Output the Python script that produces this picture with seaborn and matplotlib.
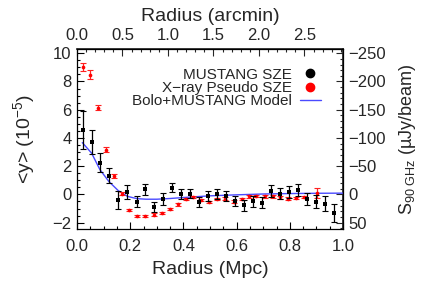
import numpy as np
import pandas as pd
import matplotlib
matplotlib.use("Agg")
import matplotlib.pyplot as plt
from matplotlib.lines import Line2D
from matplotlib.ticker import MultipleLocator, FixedLocator, FormatStrFormatter
import seaborn as sns

# ---- data ----
must_r = [0.024, 0.055, 0.086, 0.121, 0.155, 0.189, 0.224, 0.257, 0.290, 0.325,
          0.358, 0.392, 0.426, 0.460, 0.494, 0.527, 0.561, 0.594, 0.629, 0.663,
          0.697, 0.730, 0.764, 0.798, 0.831, 0.866, 0.900, 0.933, 0.967]
must_y = [4.55, 3.70, 2.26, 1.33, -0.38, 0.15, -0.53, 0.35, -0.91, -0.34,
          0.47, 0.02, 0.05, -0.54, -0.10, 0.04, -0.13, -0.48, -0.78, -0.49,
          -0.58, 0.25, 0.05, 0.20, 0.29, -0.33, -0.51, -0.67, -1.30]
must_err = [1.34, 0.87, 0.70, 0.53, 0.62, 0.49, 0.39, 0.38, 0.36, 0.42,
            0.33, 0.33, 0.32, 0.33, 0.35, 0.35, 0.34, 0.35, 0.39, 0.40,
            0.37, 0.41, 0.41, 0.43, 0.43, 0.41, 0.47, 0.53, 0.62]

xray_r = [0.021, 0.050, 0.079, 0.108, 0.138, 0.168, 0.197, 0.227, 0.257, 0.288,
          0.318, 0.348, 0.379, 0.409, 0.437, 0.467, 0.497, 0.527, 0.557, 0.590,
          0.619, 0.646, 0.673, 0.705, 0.735, 0.765, 0.795, 0.822, 0.852, 0.901]
xray_y = [9.02, 8.48, 6.15, 3.15, 1.33, 0.04, -1.09, -1.52, -1.53, -1.43,
          -1.32, -1.04, -0.71, -0.33, -0.18, -0.41, -0.55, -0.34, -0.29, -0.51,
          -0.31, -0.14, -0.12, -0.14, -0.14, -0.21, -0.29, -0.27, -0.19, 0.10]
xray_err = [0.28, 0.30, 0.20, 0.18, 0.15, 0.10, 0.08, 0.08, 0.08, 0.08,
            0.08, 0.08, 0.08, 0.08, 0.08, 0.08, 0.08, 0.08, 0.08, 0.08,
            0.08, 0.08, 0.08, 0.08, 0.08, 0.08, 0.08, 0.08, 0.08, 0.37]

model_r = [0.02, 0.055, 0.086, 0.12, 0.155, 0.19, 0.225, 0.26, 0.30, 0.35,
           0.40, 0.50, 0.60, 0.70, 0.80, 0.90, 1.00]
model_y = [3.67, 2.92, 1.76, 0.91, 0.27, -0.14, -0.30, -0.34, -0.34, -0.29,
           -0.22, -0.10, -0.03, 0.03, 0.06, 0.08, 0.09]

bottom_ticks = [0.0, 0.2, 0.4, 0.6, 0.8, 1.0]
left_ticks = [-2, 0, 2, 4, 6, 8, 10]
top_ticks = [0.0, 0.5, 1.0, 1.5, 2.0, 2.5]
right_ticks = [-250, -200, -150, -100, -50, 0, 50]

legend_labels = ["MUSTANG SZE", "X\u2212ray Pseudo SZE", "Bolo+MUSTANG Model"]

MPC_PER_ARCMIN = 0.342
UJY_PER_Y = -25.0

# ---- style ----
sns.set_theme(style="ticks")
plt.rcParams["font.family"] = ["Liberation Sans", "DejaVu Sans"]
plt.rcParams["mathtext.fontset"] = "custom"
plt.rcParams["mathtext.rm"] = "Liberation Sans"
plt.rcParams["mathtext.it"] = "Liberation Sans:italic"

fig = plt.figure(figsize=(4.29, 2.86), dpi=100)
ax = fig.add_axes([77 / 429, 1 - 229 / 286, 266 / 429, 180 / 286])

must = pd.DataFrame({"r": must_r, "y": must_y, "e": must_err})
xray = pd.DataFrame({"r": xray_r, "y": xray_y, "e": xray_err})
model = pd.DataFrame({"r": model_r, "y": model_y})

# model line
sns.lineplot(data=model, x="r", y="y", ax=ax, color="#4a4aff", linewidth=1.0,
             zorder=2)

# x-ray pseudo SZE
_, caps, bars = ax.errorbar(xray["r"], xray["y"], yerr=xray["e"], fmt="none",
                            ecolor="#ff2020", elinewidth=0.9, capsize=2.2,
                            capthick=0.8, zorder=3)
for c in caps:
    c.set_color("#ff8888")
sns.scatterplot(data=xray, x="r", y="y", ax=ax, color="red", marker="o",
                s=7, linewidth=0, zorder=4)

# MUSTANG
_, caps, bars = ax.errorbar(must["r"], must["y"], yerr=must["e"], fmt="none",
                            ecolor="black", elinewidth=0.9, capsize=2.5,
                            capthick=0.8, zorder=5)
for c in caps:
    c.set_color("#888888")
sns.scatterplot(data=must, x="r", y="y", ax=ax, color="black", marker="s",
                s=6, linewidth=0, zorder=6)

ax.set_xlim(0, 1.0)
ax.set_ylim(-2.45, 10.3)
ax.set_xlabel("Radius (Mpc)", fontsize=14, labelpad=5)
ax.set_ylabel(r"<y> (10$^{-5}$)", fontsize=14, labelpad=11)

ax.xaxis.set_major_locator(FixedLocator(bottom_ticks))
ax.xaxis.set_minor_locator(MultipleLocator(0.05))
ax.yaxis.set_major_locator(FixedLocator(left_ticks))
ax.yaxis.set_minor_locator(MultipleLocator(0.5))
ax.tick_params(which="both", direction="in", top=False, right=False,
               labelsize=12, pad=4, width=0.8, color="black")
ax.tick_params(axis="x", which="both", pad=7)
ax.tick_params(which="major", length=5)
ax.tick_params(which="minor", length=2.5)
ax.xaxis.set_major_formatter(FormatStrFormatter("%.1f"))
for s in ax.spines.values():
    s.set_linewidth(0.9)
    s.set_color("black")
    s.set_visible(True)

secx = ax.secondary_xaxis("top", functions=(lambda x: x / MPC_PER_ARCMIN,
                                            lambda a: a * MPC_PER_ARCMIN))
secx.set_xlabel("Radius (arcmin)", fontsize=14, labelpad=5)
secx.xaxis.set_major_locator(FixedLocator(top_ticks))
secx.xaxis.set_minor_locator(MultipleLocator(0.1))
secx.xaxis.set_major_formatter(FormatStrFormatter("%.1f"))
secx.tick_params(which="both", direction="in", labelsize=12, pad=4, width=0.8)
secx.tick_params(which="major", length=5)
secx.tick_params(which="minor", length=2.5)

secy = ax.secondary_yaxis("right", functions=(lambda y: y * UJY_PER_Y,
                                              lambda s: s / UJY_PER_Y))
secy.set_ylabel("S$_{\\mathrm{90\\ GHz}}$ (\u00b5Jy/beam)", fontsize=13,
                labelpad=8)
secy.yaxis.set_major_locator(FixedLocator(right_ticks))
secy.yaxis.set_minor_locator(MultipleLocator(10))
secy.tick_params(which="both", direction="in", labelsize=12, pad=4, width=0.8)
secy.tick_params(which="major", length=5)
secy.tick_params(which="minor", length=2.5)

handles = [
    Line2D([], [], linestyle="none", marker="o", color="black", markersize=6),
    Line2D([], [], linestyle="none", marker="o", color="red", markersize=6),
    Line2D([], [], color="#4a4aff", linewidth=1.0),
]
leg = ax.legend(handles, legend_labels, loc="upper right", markerfirst=False,
                frameon=False, fontsize=11, labelspacing=-0.05,
                handlelength=1.4, handletextpad=0.5, borderaxespad=0.0,
                bbox_to_anchor=(0.94, 0.93))

fig.savefig("out.png", dpi=100)
